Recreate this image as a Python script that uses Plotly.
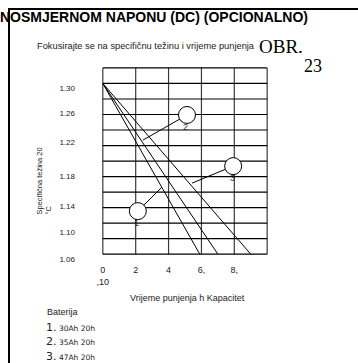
import plotly.graph_objects as go

# --- data --------------------------------------------------------------
# charge curves: specific gravity falls from 1.30 to 1.08 over the charge time (h)
curve_t0 = [0, 0, 0]
curve_sg0 = [1.30, 1.30, 1.30]
curve_t1 = [5.9, 7.0, 9.0]
curve_sg1 = [1.08, 1.08, 1.08]

# numbered call-out circles and the point on a curve each one points at
callout_ids = ["1", "2", "3"]
callout_t = [2.13, 5.12, 7.93]
callout_sg = [1.1355, 1.2594, 1.1935]
target_t = [3.6, 2.44, 5.43]
target_sg = [1.1665, 1.227, 1.1716]

battery_caps = ["30Ah 20h", "35Ah 20h", "47Ah 20h"]

x_grid = [0, 2, 4, 6, 8, 10]
y_grid = [1.08, 1.10, 1.12, 1.14, 1.16, 1.18, 1.20, 1.22, 1.24, 1.26, 1.28, 1.30, 1.32]
x_tick_vals = [0, 2, 4, 6, 8]
x_tick_text = ["0<br>,10", "2", "4", "6,", "8,"]
y_tick_text = ["1.30", "1.26", "1.22", "1.18", "1.14", "1.10", "1.06"]

# --- page geometry --------------------------------------------------------
W, H = 358, 363
L, R, T, B = 102, 90, 66, 103
PW, PH = W - L - R, H - T - B

def px(x):
    return (x - L) / PW

def py(y):
    return (H - B - y) / PH

SANS = "Liberation Sans, Arial, sans-serif"
SERIF = "Liberation Serif, Times New Roman, serif"

fig = go.Figure()

for i in range(len(curve_t0)):
    fig.add_trace(go.Scatter(
        x=[curve_t0[i], curve_t1[i]], y=[curve_sg0[i], curve_sg1[i]],
        mode='lines', line=dict(color='black', width=1),
        showlegend=False, hoverinfo='skip'
    ))

for i in range(len(callout_ids)):
    fig.add_trace(go.Scatter(
        x=[callout_t[i], target_t[i]], y=[callout_sg[i], target_sg[i]],
        mode='lines', line=dict(color='black', width=1),
        showlegend=False, hoverinfo='skip'
    ))

fig.add_trace(go.Scatter(
    x=callout_t, y=callout_sg, mode='markers',
    marker=dict(size=17, color='white', line=dict(color='black', width=1)),
    showlegend=False, hoverinfo='skip'
))

# grid drawn as shapes so it stops exactly at the frame
shapes = []
for gx in x_grid:
    shapes.append(dict(type='line', xref='x', yref='y', x0=gx, x1=gx,
                       y0=y_grid[0], y1=y_grid[-1], layer='below',
                       line=dict(color='#3a3a3a', width=1.2)))
for gy in y_grid:
    shapes.append(dict(type='line', xref='x', yref='y', x0=x_grid[0], x1=x_grid[-1],
                       y0=gy, y1=gy, layer='below',
                       line=dict(color='black', width=1.2)))
# document frame lines
shapes.append(dict(type='line', xref='paper', yref='paper',
                   x0=px(8), x1=px(W + 2), y0=py(9), y1=py(9),
                   line=dict(color='black', width=2)))
shapes.append(dict(type='line', xref='paper', yref='paper',
                   x0=px(9), x1=px(9), y0=py(9), y1=py(H + 2),
                   line=dict(color='black', width=2)))

ann = []
ann.append(dict(text="<b>NOSMJERNOM NAPONU (DC) (OPCIONALNO)</b>",
                x=px(-2), y=py(17), xanchor='left', yanchor='middle',
                font=dict(family=SANS, size=14, color='black')))
ann.append(dict(text="Fokusirajte se na specifičnu težinu i vrijeme punjenja",
                x=px(35), y=py(46), xanchor='left', yanchor='middle',
                font=dict(family=SANS, size=9.3, color='#222')))
ann.append(dict(text="OBR.", x=px(257), y=py(47), xanchor='left', yanchor='middle',
                font=dict(family=SERIF, size=19, color='black')))
ann.append(dict(text="23", x=px(313), y=py(66), xanchor='center', yanchor='middle',
                font=dict(family=SERIF, size=18, color='black')))
ann.append(dict(text="Vrijeme punjenja h Kapacitet", x=px(187), y=py(298),
                xanchor='center', yanchor='middle',
                font=dict(family=SANS, size=9, color='#222')))
ann.append(dict(text="Specifična težina 20<br>°C", x=px(43.5), y=py(181),
                xanchor='center', yanchor='middle', textangle=-90, align='left',
                font=dict(family=SANS, size=7.5, color='#222')))
ann.append(dict(text="Baterija", x=px(45), y=py(312), xanchor='left', yanchor='middle',
                font=dict(family=SANS, size=9, color='#222')))
for i, cap in enumerate(battery_caps):
    ann.append(dict(text=f"<span style='font-size:11px'>{i + 1}.</span> {cap}",
                    x=px(44), y=py(327 + 14.5 * i), xanchor='left', yanchor='middle',
                    font=dict(family="DejaVu Sans, sans-serif", size=7.5, color='#222')))
for i, cid in enumerate(callout_ids):
    ann.append(dict(text=cid, x=callout_t[i], y=callout_sg[i], xref='x', yref='y',
                    yshift=-12, xshift=-1,
                    font=dict(family=SANS, size=9, color='#333')))

for a in ann:
    a.setdefault('xref', 'paper')
    a.setdefault('yref', 'paper')
    a['showarrow'] = False

# y tick labels sit where the scan puts them (not evenly spaced)
y_tick_pos = [1.2941, 1.2619, 1.2245, 1.1807, 1.1420, 1.1085, 1.0737]

fig.update_layout(
    width=W, height=H,
    margin=dict(l=L, r=R, t=T, b=B, pad=0),
    paper_bgcolor='white', plot_bgcolor='white',
    shapes=shapes, annotations=ann,
    xaxis=dict(range=[-0.05, 10.05], showgrid=False, zeroline=False, automargin=False,
               tickmode='array', tickvals=x_tick_vals, ticktext=x_tick_text,
               ticks='', ticklabelstandoff=3,
               tickfont=dict(family=SANS, size=9, color='#222')),
    yaxis=dict(range=[1.0725, 1.3225], showgrid=False, zeroline=False, automargin=False,
               tickmode='array', tickvals=y_tick_pos, ticktext=y_tick_text,
               ticks='', ticklabelstandoff=26,
               tickfont=dict(family=SANS, size=8, color='#222')),
)

fig.write_html("out.html", config={'displayModeBar': False},
               post_script="document.body.style.margin='0';document.body.style.overflow='hidden';")
